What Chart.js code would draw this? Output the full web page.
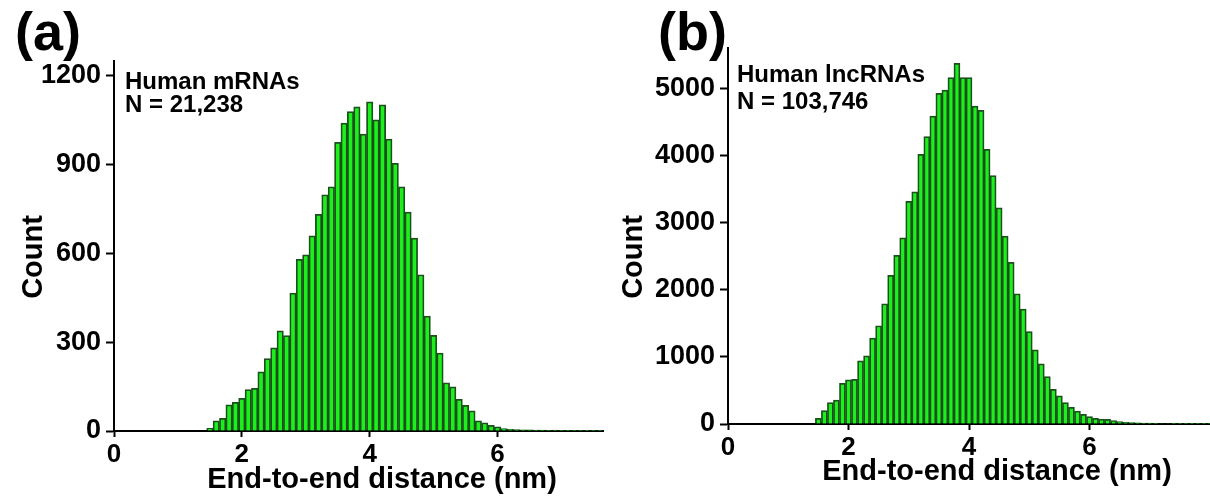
<!DOCTYPE html>
<html>
<head>
<meta charset="utf-8">
<script src="https://cdn.jsdelivr.net/npm/chart.js@4"></script>
<style>
    html, body { margin: 0; padding: 0; background: #fff; }
    #wrap { position: relative; width: 1210px; height: 498px; overflow: hidden; }
    canvas { position: absolute; top: 0; }
    #chartA { left: 0; }
    #chartB { left: 605px; }
</style>
</head>
<body>
<div id="wrap">
    <canvas id="chartA" width="605" height="498"></canvas>
    <canvas id="chartB" width="605" height="498"></canvas>
</div>
<script>
// (a) Human mRNAs - bin centres (nm) and counts
const binsA = [1.5, 1.6, 1.7, 1.8, 1.9, 2.0, 2.1, 2.2, 2.3, 2.4,
    2.5, 2.6, 2.7, 2.8, 2.9, 3.0, 3.1, 3.2, 3.3, 3.4,
    3.5, 3.6, 3.7, 3.8, 3.9, 4.0, 4.1, 4.2, 4.3, 4.4,
    4.5, 4.6, 4.7, 4.8, 4.9, 5.0, 5.1, 5.2, 5.3, 5.4,
    5.5, 5.6, 5.7, 5.8, 5.9, 6.0, 6.1, 6.2,
    6.3, 6.4, 6.5, 6.6, 6.7, 6.8, 6.9, 7.0, 7.1, 7.2, 7.3, 7.4, 7.5, 7.6];
const countsA = [9, 34, 43, 88, 97, 110, 140, 144, 200, 245,
    281, 338, 322, 466, 580, 595, 659, 732, 798, 825,
    975, 1040, 1079, 1095, 1003, 1112, 1051, 1102, 986, 904,
    825, 740, 652, 528, 388, 323, 263, 163, 149, 107,
    87, 68, 34, 28, 19, 14, 8, 6,
    5, 4, 4, 3, 3, 2, 3, 2, 2, 2, 1, 2, 1, 2];

// (b) Human lncRNAs
const binsB = [1.5, 1.6, 1.7, 1.8, 1.9, 2.0, 2.1, 2.2, 2.3, 2.4,
    2.5, 2.6, 2.7, 2.8, 2.9, 3.0, 3.1, 3.2, 3.3, 3.4,
    3.5, 3.6, 3.7, 3.8, 3.9, 4.0, 4.1, 4.2, 4.3, 4.4,
    4.5, 4.6, 4.7, 4.8, 4.9, 5.0, 5.1, 5.2, 5.3, 5.4,
    5.5, 5.6, 5.7, 5.8, 5.9, 6.0, 6.1, 6.2, 6.3, 6.4,
    6.5, 6.6, 6.7, 6.8, 6.9, 7.0, 7.1, 7.2, 7.3, 7.4,
    7.5, 7.6, 7.7, 7.8, 7.9, 8.0];
const countsB = [85, 199, 318, 358, 607, 657, 667, 940, 1015, 1279,
    1463, 1791, 2214, 2512, 2771, 3318, 3458, 4015, 4279, 4587,
    4925, 4975, 5159, 5373, 5159, 5159, 4736, 4672, 4090, 3701,
    3219, 2800, 2408, 1940, 1711, 1378, 1104, 896, 706, 517,
    418, 318, 249, 194, 144, 109, 85, 75, 70, 50,
    35, 25, 20, 18, 15, 12, 10, 8, 8, 6,
    5, 5, 4, 4, 3, 3];

const xTicks = [0, 2, 4, 6];
const yTicksA = [0, 300, 600, 900, 1200];
const yTicksB = [0, 1000, 2000, 3000, 4000, 5000];

const FONT = '"Liberation Sans", Arial, sans-serif';

// draws panel letter, annotation and axis titles
const panelText = {
    id: 'panelText',
    afterDraw(chart, args, opts) {
        const ctx = chart.ctx;
        ctx.save();
        ctx.fillStyle = '#000';
        ctx.textBaseline = 'alphabetic';
        opts.items.forEach(it => {
            ctx.font = `bold ${it.size}px ${FONT}`;
            ctx.textAlign = it.align || 'left';
            ctx.save();
            ctx.translate(it.x, it.y);
            if (it.rotate) ctx.rotate(it.rotate);
            ctx.fillText(it.text, 0, 0);
            ctx.restore();
        });
        ctx.restore();
    }
};

function makeChart(id, bins, counts, opt) {
    const ctx = document.getElementById(id).getContext('2d');
    return new Chart(ctx, {
        type: 'bar',
        data: {
            datasets: [{
                data: bins.map((b, i) => ({ x: b, y: counts[i] })),
                backgroundColor: '#1cf01c',
                borderColor: '#1b4f1b',
                borderWidth: 1.75,
                barPercentage: 1,
                categoryPercentage: 1
            }]
        },
        options: {
            responsive: false,
            animation: false,
            layout: { padding: { left: 0, right: opt.padRight, top: opt.top, bottom: 0 } },
            plugins: {
                legend: { display: false },
                tooltip: { enabled: false },
                panelText: { items: opt.texts }
            },
            scales: {
                x: {
                    type: 'linear',
                    min: 0,
                    max: opt.xMax,
                    offset: false,
                    afterFit: s => { s.height = opt.xHeight; },
                    afterBuildTicks: s => { s.ticks = xTicks.map(v => ({ value: v })); },
                    grid: { drawOnChartArea: false, offset: false, tickLength: 6, tickWidth: 2, tickColor: '#000' },
                    border: { color: '#000', width: 2 },
                    ticks: {
                        color: '#000',
                        padding: 2,
                        maxRotation: 0,
                        font: { family: FONT, size: 26, weight: 'bold' },
                        callback: v => String(v)
                    }
                },
                y: {
                    min: 0,
                    max: opt.yMax,
                    afterFit: s => { s.width = opt.yWidth; },
                    afterBuildTicks: s => { s.ticks = opt.yTicks.map(v => ({ value: v })); },
                    grid: { drawOnChartArea: false, tickLength: 8, tickWidth: 2, tickColor: '#000' },
                    border: { color: '#000', width: 2 },
                    ticks: {
                        color: '#000',
                        padding: 5,
                        font: { family: FONT, size: 27, weight: 'bold' },
                        callback: v => String(v)
                    }
                }
            }
        },
        plugins: [panelText]
    });
}

makeChart('chartA', binsA, countsA, {
    xMax: 7.65, yMax: 1250, yTicks: yTicksA,
    top: 61, padRight: 2, yWidth: 114, xHeight: 67,
    texts: [
        { text: '(a)', size: 54, x: 15, y: 50 },
        { text: 'Human mRNAs', size: 24, x: 125, y: 89 },
        { text: 'N = 21,238', size: 24, x: 125, y: 112 },
        { text: 'End-to-end distance (nm)', size: 29, x: 382, y: 488, align: 'center' },
        { text: 'Count', size: 29, x: 42, y: 257, align: 'center', rotate: -Math.PI / 2 }
    ]
});

makeChart('chartB', binsB, countsB, {
    xMax: 8.0, yMax: 5600, yTicks: yTicksB,
    top: 48, padRight: 0, yWidth: 123, xHeight: 74,
    texts: [
        { text: '(b)', size: 54, x: 53, y: 50 },
        { text: 'Human lncRNAs', size: 24, x: 132, y: 82 },
        { text: 'N = 103,746', size: 24, x: 132, y: 109 },
        { text: 'End-to-end distance (nm)', size: 29, x: 392, y: 480, align: 'center' },
        { text: 'Count', size: 29, x: 37, y: 257, align: 'center', rotate: -Math.PI / 2 }
    ]
});
</script>
</body>
</html>
